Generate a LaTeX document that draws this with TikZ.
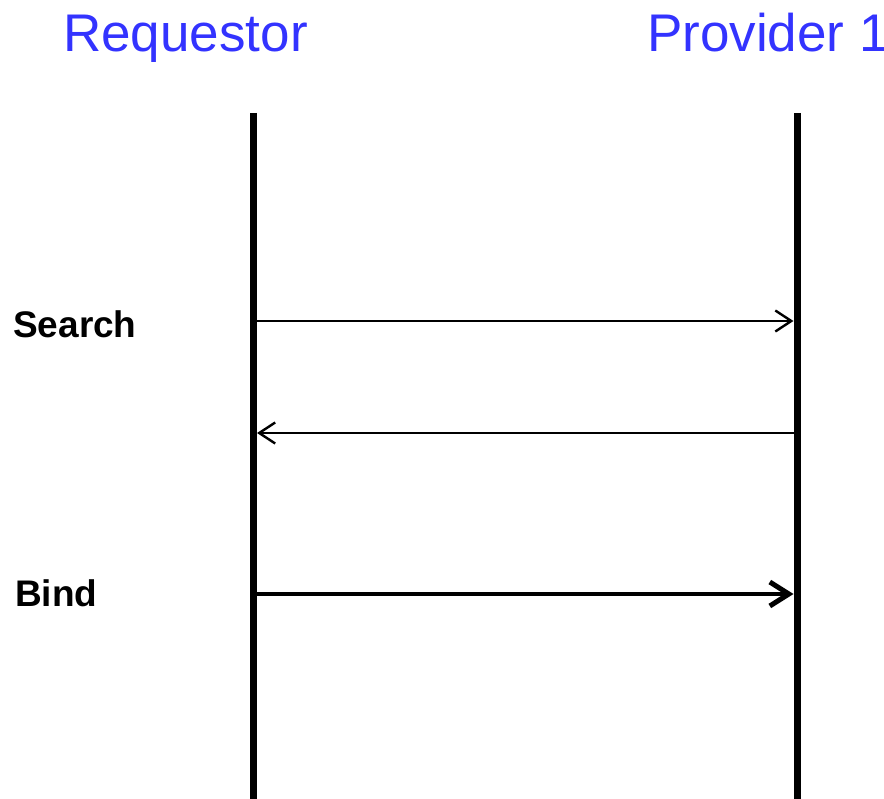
\documentclass[tikz,border=0pt]{standalone}
\usepackage{fontspec}
\setmainfont{Liberation Sans}
\usetikzlibrary{arrows.meta}
\definecolor{actorblue}{RGB}{51,51,255}
\begin{document}
\begin{tikzpicture}[x=1pt,y=-1pt,
  actor/.style={anchor=base west,inner sep=0pt,text=actorblue,font=\fontsize{53}{60}\selectfont},
  msglabel/.style={anchor=base west,inner sep=0pt,font=\fontsize{37}{42}\selectfont\bfseries},
  lifeline/.style={line width=7pt},
  thinmsg/.style={line width=2pt,-{Straight Barb[length=16pt,width=21pt,line width=2.4pt]}},
  thickmsg/.style={line width=4.8pt,-{Straight Barb[length=19pt,width=24pt,line width=5pt]}}]
\useasboundingbox (0,0) rectangle (884,799);
\begin{scope}
\clip (0,0) rectangle (884,799);
\node[actor] (req) at (63,52) {Requestor};
\node[actor] (prov) at (647,52) {Provider 1};
\end{scope}
\coordinate (lt) at (253.5,113);
\coordinate (lb) at (253.5,799);
\coordinate (rt) at (797,113);
\coordinate (rb) at (797,799);
\draw[lifeline] (lt) -- (lb);
\draw[lifeline] (rt) -- (rb);
\node[msglabel] (search) at (13,338) {Search};
\node[msglabel] (bind) at (15,606) {Bind};
\coordinate (s1) at (257,321);
\coordinate (s2) at (793.5,321);
\coordinate (r1) at (793.5,433);
\coordinate (r2) at (257,433);
\coordinate (b1) at (257,594);
\coordinate (b2) at (793.5,594);
\draw[thinmsg] (s1) -- (s2);
\draw[thinmsg] (r1) -- (r2);
\draw[thickmsg] (b1) -- (b2);
\end{tikzpicture}
\end{document}
